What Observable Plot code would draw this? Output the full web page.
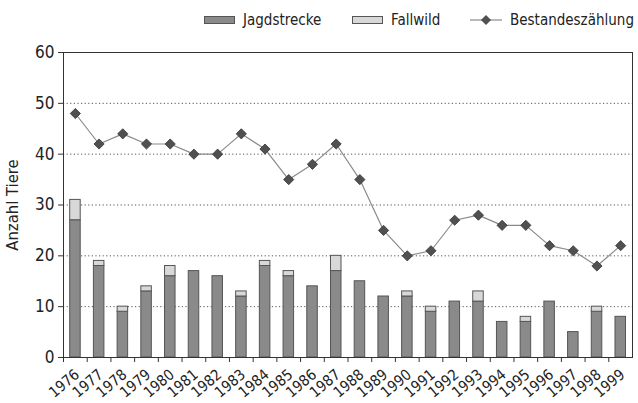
<!DOCTYPE html>
<html><head><meta charset="utf-8">
<script src="https://cdn.jsdelivr.net/npm/d3@7"></script>
<script src="https://cdn.jsdelivr.net/npm/@observablehq/plot@0.6"></script>
<style>
body{margin:0;background:#fff;}
#wrap{position:relative;width:638px;height:403px;font-family:"DejaVu Sans Condensed","DejaVu Sans",sans-serif;color:#222;}
#legend{position:absolute;top:0;left:0;width:638px;height:40px;font-size:15px;}
.item{position:absolute;top:10px;height:20px;display:flex;align-items:center;white-space:nowrap;}
.sw{width:31px;height:8px;border:1px solid #555;margin-right:8px;box-sizing:border-box;}
.ln{width:32px;height:20px;margin-right:8px;}
</style></head><body>
<div id="wrap"><div id="chart"></div><div id="legend"></div></div>
<script>
const years = ["1976","1977","1978","1979","1980","1981","1982","1983","1984","1985","1986","1987","1988","1989","1990","1991","1992","1993","1994","1995","1996","1997","1998","1999"];
const jagdstrecke = [27,18,9,13,16,17,16,12,18,16,14,17,15,12,12,9,11,11,7,7,11,5,9,8];
const fallwild    = [4,1,1,1,2,0,0,1,1,1,0,3,0,0,1,1,0,2,0,1,0,0,1,0];
const bestand     = [48,42,44,42,42,40,40,44,41,35,38,42,35,25,20,21,27,28,26,26,22,21,18,22];
const yTicks = [0,10,20,30,40,50,60];
const gridTicks = [10,20,30,40,50];
const seriesNames = ["Jagdstrecke","Fallwild","Bestandeszählung"];
const barColors = ["#8a8a8a","#d8d8d8"];

const stackData = [
  ...years.map((y,i)=>({year:y, series:seriesNames[0], value:jagdstrecke[i]})),
  ...years.map((y,i)=>({year:y, series:seriesNames[1], value:fallwild[i]})).filter(d=>d.value>0)
];
const lineData = years.map((y,i)=>({year:y, value:bestand[i]}));

const W=638,H=403,mL=63,mR=6,mT=52,mB=46;
const step=(W-mL-mR)/years.length;
const font='"DejaVu Sans Condensed","DejaVu Sans",sans-serif';

const chart = Plot.plot({
  width:W, height:H, marginTop:mT, marginBottom:mB, marginLeft:mL, marginRight:mR,
  style:{fontFamily:font, fontSize:"14px", color:"#222", background:"white", overflow:"visible"},
  x:{domain:years, padding:0, round:false, label:null, axis:null},
  y:{domain:[0,60], label:null, axis:null},
  color:{domain:seriesNames.slice(0,2), range:barColors},
  marks:[
    Plot.gridY(gridTicks,{stroke:"#555", strokeOpacity:1, strokeDasharray:"1.2,2.4"}),
    Plot.barY(stackData,{x:"year", y:"value", fill:"series", stroke:"#555", strokeWidth:1, insetLeft:6.7, insetRight:6.5}),
    Plot.line(lineData,{x:"year", y:"value", stroke:"#8a8a8a", strokeWidth:1.2}),
    Plot.dot(lineData,{x:"year", y:"value", symbol:"diamond2", r:4.6, fill:"#505050", stroke:"#333", strokeWidth:0.8}),
    Plot.frame({stroke:"#333", strokeWidth:1}),
    Plot.axisY({ticks:yTicks, tickSize:5, tickPadding:4, fontSize:17, label:null, stroke:"#333"}),
    Plot.axisX({tickSize:0, tickRotate:-40, tickPadding:15, fontSize:15, dx:2, label:null}),
    Plot.axisX({tickSize:5, insetTop:-3, tickFormat:()=> "", dx:-step/2, label:null, stroke:"#333"}),
    Plot.text(["Anzahl Tiere"],{text:d=>d, frameAnchor:"left", textAnchor:"middle", rotate:-90, dx:-51, fontSize:16.5, fill:"#222"})
  ]
});
document.getElementById("chart").appendChild(chart);

const legend = document.getElementById("legend");
const lefts=[204,352,470];
seriesNames.forEach((name,i)=>{
  const it=document.createElement("div");
  it.className="item"; it.style.left=lefts[i]+"px";
  if(i<2){
    const s=document.createElement("div"); s.className="sw"; s.style.background=barColors[i];
    it.appendChild(s);
  } else {
    it.innerHTML='<svg class="ln" viewBox="0 0 32 20"><line x1="0" y1="10" x2="32" y2="10" stroke="#8a8a8a" stroke-width="1.2"/><path d="M16,5.5L20.5,10L16,14.5L11.5,10Z" fill="#505050" stroke="#333" stroke-width="0.8"/></svg>';
  }
  const t=document.createElement("span"); t.textContent=name; it.appendChild(t);
  legend.appendChild(it);
});
</script>
</body></html>
